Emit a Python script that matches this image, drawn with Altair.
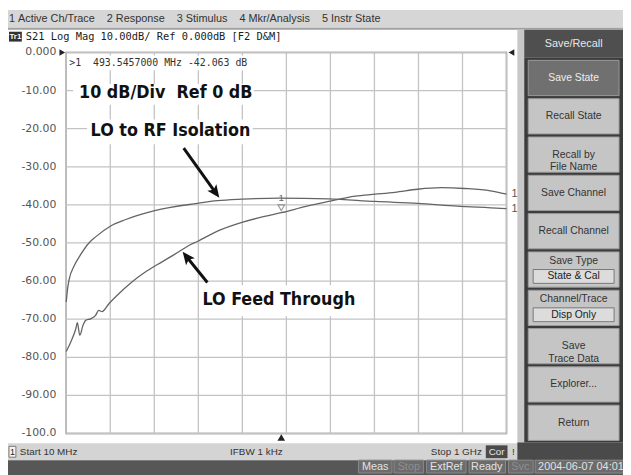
import altair as alt
import pandas as pd

# ---------------- data ----------------
iso_freq = [10, 12.9, 16.7, 27.8, 42.6, 61, 76, 109, 142.5, 209, 305, 350, 405, 489, 600, 705, 800, 889, 987, 1000]
iso_db = [-65.5, -62.1, -59.5, -56.0, -53.0, -50.0, -48.4, -45.6, -43.9, -41.5, -39.6, -38.9, -38.5, -38.2, -38.4,
          -39.1, -39.6, -40.3, -40.9, -41.0]
feed_freq = [10, 20.4, 31.5, 35, 40.4, 47.7, 53.7, 64.8, 76, 83, 90.6, 105.5, 127.6, 157, 187, 216, 253.5, 290, 305,
             350, 405, 453, 493.5, 549, 600, 660, 705, 749, 800, 853, 905, 964, 1000]
feed_db = [-78.5, -75.9, -72.5, -70.9, -74.2, -71.6, -70.3, -69.9, -69.0, -67.7, -68.0, -66.0, -63.4, -60.3, -57.7,
           -55.6, -53.0, -50.4, -49.6, -46.9, -44.6, -43.1, -42.06, -40.4, -39.1, -37.7, -37.2, -36.7, -35.9, -35.5,
           -35.7, -36.3, -37.2]
marker_freq = 493.5457
marker_db = -42.063
y_ticks = list(range(-100, 1, 10))
x_grid = [10 + 99 * i for i in range(11)]
menu_items = ["1 Active Ch/Trace", "2 Response", "3 Stimulus", "4 Mkr/Analysis", "5 Instr State"]
buttons = ["Save State", "Recall State", "Recall by\nFile Name", "Save Channel", "Recall Channel",
           "Save Type", "Channel/Trace", "Save\nTrace Data", "Explorer...", "Return"]
button_sub = ["", "", "", "", "", "State & Cal", "Disp Only", "", "", ""]
button_sel = [1, 0, 0, 0, 0, 0, 0, 0, 0, 0]

UI = "Liberation Sans"
MONO = "DejaVu Sans Mono"
NARROW = "'Liberation Sans Narrow', 'Arial Narrow', 'DejaVu Sans Condensed', 'DejaVu Sans', sans-serif"

NB = "\u00a0"
one = pd.DataFrame({"k": [0]})

# plot area in page pixels: x 67..513, y 50..436
def vx(px):
    return px - 67

def vy(py):
    return py - 50

xs = alt.Scale(domain=[10, 1000], nice=False, zero=False)
ys = alt.Scale(domain=[-100, 0], nice=False, zero=False)


def box(x1, y1, x2, y2, fill, stroke=None, sw=1):
    kw = dict(fill=fill)
    if stroke:
        kw.update(stroke=stroke, strokeWidth=sw)
    return alt.Chart(one).mark_rect(**kw).encode(
        x=alt.value(vx(x1)), x2=alt.value(vx(x2)), y=alt.value(vy(y1)), y2=alt.value(vy(y2)))


def txt(s, x, y, size=11, color="#222", font=UI, align="left", weight="normal"):
    return alt.Chart(one).mark_text(text=s, fontSize=size, color=color, font=font, align=align,
                                    fontWeight=weight, baseline="middle").encode(
        x=alt.value(vx(x)), y=alt.value(vy(y)))


def dbox(f1, d1, f2, d2):
    return alt.Chart(one).mark_rect(fill="white").encode(
        x=alt.XDatum(f1, scale=xs, axis=None), x2=alt.X2Datum(f2),
        y=alt.YDatum(d1, scale=ys, axis=None), y2=alt.Y2Datum(d2))


def dtext(s, f, d, size=18):
    return alt.Chart(one).mark_text(text=s, font=NARROW, fontSize=size, fontWeight="bold", color="#111",
                                    align="left", baseline="middle").encode(
        x=alt.XDatum(f, scale=xs, axis=None), y=alt.YDatum(d, scale=ys, axis=None))


def arrow(f1, d1, f2, d2, angle):
    shaft = alt.Chart(one).mark_rule(color="#111", strokeWidth=3).encode(
        x=alt.XDatum(f1, scale=xs, axis=None), x2=alt.X2Datum(f2),
        y=alt.YDatum(d1, scale=ys, axis=None), y2=alt.Y2Datum(d2))
    head = alt.Chart(one).mark_point(shape="M0,-1L0.8,0.8L0,0.4L-0.8,0.8Z", size=200, filled=True,
                                     color="#111", opacity=1, angle=angle).encode(
        x=alt.XDatum(f2, scale=xs, axis=None), y=alt.YDatum(d2, scale=ys, axis=None))
    return [shaft, head]


# ---------------- grid, labels, traces ----------------
traces = pd.concat([
    pd.DataFrame({"series": "LO to RF Isolation", "freq": iso_freq, "db": iso_db}),
    pd.DataFrame({"series": "LO Feed Through", "freq": feed_freq, "db": feed_db}),
])
ends = pd.DataFrame({"freq": [iso_freq[-1], feed_freq[-1]], "db": [iso_db[-1], feed_db[-1]]})
mk = pd.DataFrame({"freq": [marker_freq], "db": [marker_db]})
ydf = pd.DataFrame({"v": y_ticks})
xdf = pd.DataFrame({"v": x_grid})

GRID = "#c3c3c3"
hgrid = alt.Chart(ydf).mark_rule(color=GRID, strokeWidth=1.3).encode(
    y=alt.Y("v:Q", scale=ys, axis=None), x=alt.value(0), x2=alt.value(446))
vgrid = alt.Chart(xdf).mark_rule(color=GRID, strokeWidth=1.3).encode(
    x=alt.X("v:Q", scale=xs, axis=None), y=alt.value(0), y2=alt.value(386))
ylabels = alt.Chart(ydf).transform_calculate(
    lab="datum.v == 0 ? '0.000' : (datum.v == -100 ? '-100.0' : '-' + format(abs(datum.v), '.2f'))"
).mark_text(font="DejaVu Sans", fontSize=11, color="#555555", align="right", baseline="middle").encode(
    y=alt.Y("v:Q", scale=ys, axis=None), x=alt.value(-10), text="lab:N")

lines = alt.Chart(traces).mark_line(color="#646464", strokeWidth=1.3, interpolate="monotone").encode(
    x=alt.X("freq:Q", scale=xs, axis=None),
    y=alt.Y("db:Q", scale=ys, axis=None),
    detail="series:N")

end_labels = alt.Chart(ends).mark_text(text="1", font=UI, fontSize=11, color="#555", align="left",
                                       baseline="middle", dx=5).encode(
    x=alt.X("freq:Q", scale=xs, axis=None), y=alt.Y("db:Q", scale=ys, axis=None))

mk_sym = alt.Chart(mk).mark_point(shape="triangle-down", size=45, stroke="#777", strokeWidth=1.2,
                                  filled=False, yOffset=-5).encode(
    x=alt.X("freq:Q", scale=xs, axis=None), y=alt.Y("db:Q", scale=ys, axis=None))
mk_txt = alt.Chart(mk).mark_text(text="1", font=UI, fontSize=10, color="#666", dy=-15).encode(
    x=alt.X("freq:Q", scale=xs, axis=None), y=alt.Y("db:Q", scale=ys, axis=None))
mk_bottom = alt.Chart(mk).mark_point(shape="triangle-up", size=60, filled=True, color="#222",
                                     opacity=1).encode(
    x=alt.X("freq:Q", scale=xs, axis=None), y=alt.value(390))

readout = (">1" + NB + NB + f"{marker_freq:.7f} MHz {marker_db:.3f} dB")

ref_left = alt.Chart(one).mark_point(shape="triangle-right", size=45, filled=True, color="#222",
                                     opacity=1).encode(x=alt.value(-4), y=alt.YDatum(0, scale=ys, axis=None))
ref_right = alt.Chart(one).mark_point(shape="triangle-left", size=45, filled=True, color="#222",
                                      opacity=1).encode(x=alt.value(451), y=alt.YDatum(0, scale=ys, axis=None))

plot_group = alt.layer(
    hgrid, vgrid, ylabels,
    dbox(12.2, -0.78, 429.5, -4.66),
    dbox(25.5, -8.29, 431.8, -13.73),
    dbox(56.6, -17.6, 429.5, -24.1),
    dbox(309.7, -61.1, 651.5, -69.2),
    lines,
    end_labels, mk_sym, mk_txt, mk_bottom, ref_left, ref_right,
    txt(readout, 70, 61, size=10, color="#333", font=MONO),
    dtext("10 dB/Div" + NB + NB + "Ref 0 dB", 38.9, -10.75),
    dtext("LO to RF Isolation", 64.8, -20.7),
    dtext("LO Feed Through", 316.3, -64.9),
    *arrow(274.1, -25.13, 344.9, -36.63, 143.7),
    *arrow(327.4, -60.36, 281.5, -53.76, 321.7),
)

# ---------------- soft-key panel ----------------
btn_df = pd.DataFrame({"key": [f"b{i}" for i in range(len(buttons))], "label": buttons,
                       "sub": button_sub, "sel": button_sel})
keys = list(btn_df["key"])
bys = alt.Scale(type="band", domain=keys, range=[vy(58), vy(443)], paddingInner=0.08, paddingOuter=0)
by = alt.Y("key:N", scale=bys, axis=None)
sel_fill = alt.condition("datum.sel == 1", alt.value("#707070"), alt.value("#c5c5c5"))
sel_text = alt.condition("datum.sel == 1", alt.value("#eeeeee"), alt.value("#333333"))
bbase = alt.Chart(btn_df)
btn_group = alt.layer(
    bbase.mark_rect(stroke="#9a9a9a", strokeWidth=1).encode(
        y=by, x=alt.value(vx(535)), x2=alt.value(vx(627)), color=sel_fill),
    bbase.transform_filter("datum.sub == ''").mark_text(font=UI, fontSize=10.5, lineBreak="\n",
                                                        lineHeight=13, baseline="middle").encode(
        y=by, x=alt.value(vx(581)), text="label:N", color=sel_text),
    bbase.transform_filter("datum.sub != ''").mark_text(font=UI, fontSize=10.5, dy=-9,
                                                        baseline="middle").encode(
        y=by, x=alt.value(vx(581)), text="label:N", color=sel_text),
    bbase.transform_filter("datum.sub != ''").mark_point(
        shape="M-1,-0.171L1,-0.171L1,0.171L-1,0.171Z", size=6724, filled=True, fill="#dcdcdc",
        stroke="#777", strokeWidth=1, opacity=1, yOffset=7).encode(y=by, x=alt.value(vx(581))),
    bbase.transform_filter("datum.sub != ''").mark_text(font=UI, fontSize=10.5, dy=7, color="#222",
                                                        baseline="middle").encode(
        y=by, x=alt.value(vx(581)), text="sub:N"),
)

# ---------------- window chrome ----------------
menu_text = (NB * 4).join(m.replace(" ", NB) for m in menu_items)
status_boxes = [
    box(363, 463, 397, 476, "#6c6c6c", "#8a8a8a"), txt("Meas", 380, 470, 11, "#e2e2e2", align="center"),
    box(399, 463, 429, 476, "#6c6c6c", "#8a8a8a"), txt("Stop", 414, 470, 11, "#8e8e8e", align="center"),
    box(432, 463, 472, 476, "#6c6c6c", "#8a8a8a"), txt("ExtRef", 452, 470, 11, "#e2e2e2", align="center"),
    box(475, 463, 512, 476, "#6c6c6c", "#8a8a8a"), txt("Ready", 493, 470, 11, "#e2e2e2", align="center"),
    box(515, 463, 540, 476, "#6c6c6c", "#8a8a8a"), txt("Svc", 527, 470, 11, "#8e8e8e", align="center"),
    box(542, 463, 633, 476, "#6c6c6c", "#8a8a8a"), txt("2004-06-07 04:01", 545, 470, 11, "#e2e2e2"),
]

chrome_bg = [
    box(0, 7, 640, 25, "#d6d6d6"),
    box(0, 25, 640, 27, "#a0a0a0"),
    box(524, 27, 640, 480, "#c8c8c8"),
    box(531, 27, 640, 55, "#4f4f4f"),
    box(531, 55, 640, 445, "#3c3c3c"),
    box(0, 446, 527, 463, "#d4d4d4"),
    box(524, 445, 640, 463, "#4a4a4a"),
    box(0, 463, 640, 480, "#575757"),
]
chrome_fg = [
    txt(menu_text, 9, 16, 11, "#333"),
    box(9, 29, 22, 39, "#333333"),
    txt("Tr1", 15.5, 34, 8, "#ffffff", align="center", weight="bold"),
    txt("S21 Log Mag 10.00dB/ Ref 0.000dB [F2 D&M]", 26, 34, 10.5, "#1a1a1a", font=MONO),
    txt("Save/Recall", 581, 41, 11, "#e8e8e8", align="center"),
    box(9, 449, 16, 460, "#f4f4f4", "#777"),
    txt("1", 12.5, 455, 9, "#222", align="center"),
    txt("Start 10 MHz", 20, 455, 10, "#333"),
    txt("IFBW 1 kHz", 233, 455, 10, "#333"),
    txt("Stop 1 GHz", 488, 455, 10, "#333", align="right"),
    box(492, 448, 514, 461, "#4a4a4a"),
    txt("Cor", 503, 455, 10, "#e8e8e8", align="center"),
    txt("!", 520, 455, 10, "#333", align="center"),
    *status_boxes,
]

chart = alt.layer(
    *chrome_bg, plot_group, btn_group, *chrome_fg
).resolve_scale(y="independent").properties(
    width=446, height=386,
    autosize=alt.AutoSizeParams(type="none"),
    padding={"left": 59, "top": 42, "right": 118, "bottom": 39},
    background="white",
).configure_view(stroke="#7d7d7d", strokeWidth=1.5)

chart.save("out.html", embed_options={"renderer": "svg", "actions": False})
